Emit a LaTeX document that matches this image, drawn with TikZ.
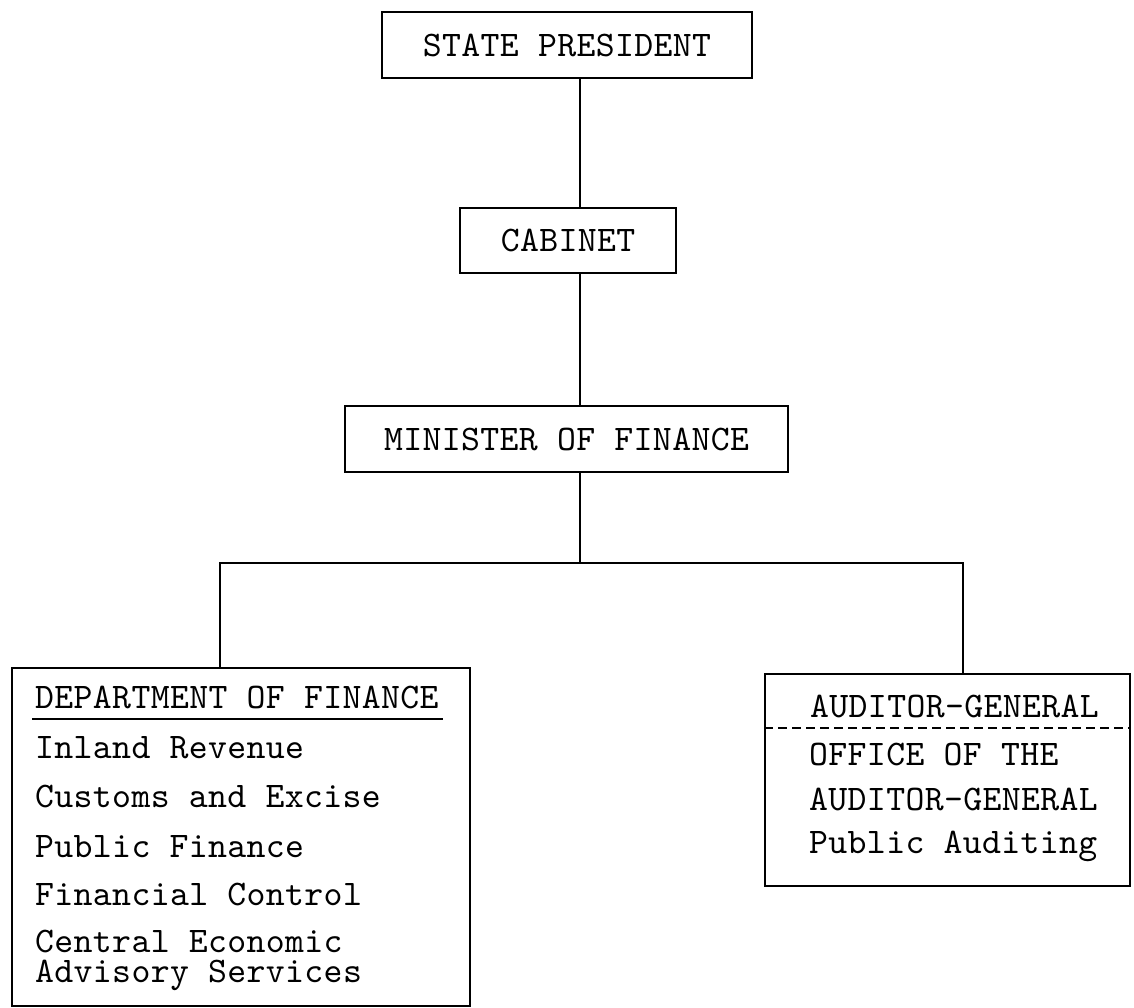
\documentclass[tikz,border=0pt]{standalone}
\usepackage{fontspec}
\newfontfamily\typ{lmmono10-regular.otf}[LetterSpace=1]
\begin{document}
\begin{tikzpicture}[x=1pt,y=-1pt,
  box/.style={draw,line width=1.8pt,rectangle,inner sep=0pt,
    font=\typ\fontsize{36}{42}\selectfont},
  lbl/.style={anchor=base west,inner sep=0pt,font=\typ\fontsize{36}{42}\selectfont},
  link/.style={line width=1.8pt}]
\useasboundingbox (0,0) rectangle (1134,1008);
\fill[white] (0,0) rectangle (1134,1008);

% upper chain of command
\node[box,minimum width=370pt,minimum height=66pt] (sp)  at (567,45)  {STATE PRESIDENT};
\node[box,minimum width=216pt,minimum height=65pt] (cab) at (568,240.5) {CABINET};
\node[box,minimum width=443pt,minimum height=66pt] (min) at (566.5,439) {MINISTER OF FINANCE};

\coordinate (spine) at (580,0);
\coordinate (barL) at (220,563);
\coordinate (barR) at (963,563);

% lower boxes
\node[box,minimum width=458pt,minimum height=338pt] (dept) at (241,837) {};
\node[box,minimum width=365pt,minimum height=212pt] (aud) at (947.5,780) {};

% connectors
\draw[link] (sp.south -| spine) -- (cab.north -| spine);
\draw[link] (cab.south -| spine) -- (min.north -| spine);
\draw[link] (min.south -| spine) -- (spine |- barL);
\draw[link] (dept.north -| barL) -- (barL) -- (barR) -- (aud.north -| barR);

% Department of Finance
\node[lbl] (dh) at (35,708) {DEPARTMENT OF FINANCE};
\draw[line width=1.6pt] (32,719) -- (443,719);
\node[lbl] (d1) at (35,758) {Inland Revenue};
\node[lbl] (d2) at (35,807) {Customs and Excise};
\node[lbl] (d3) at (35,857) {Public Finance};
\node[lbl] (d4) at (35,905) {Financial Control};
\node[lbl] (d5) at (35,952) {Central Economic};
\node[lbl] (d6) at (35,982) {Advisory Services};

% Auditor-General
\node[lbl] (ah) at (810,717) {AUDITOR-GENERAL};
\draw[line width=1.4pt,dash pattern=on 9pt off 5pt] (aud.west |- 0,728) -- (aud.east |- 0,728);
\node[lbl] (a1) at (809,765) {OFFICE OF THE};
\node[lbl] (a2) at (809,810) {AUDITOR-GENERAL};
\node[lbl] (a3) at (809,853) {Public Auditing};
\end{tikzpicture}
\end{document}
